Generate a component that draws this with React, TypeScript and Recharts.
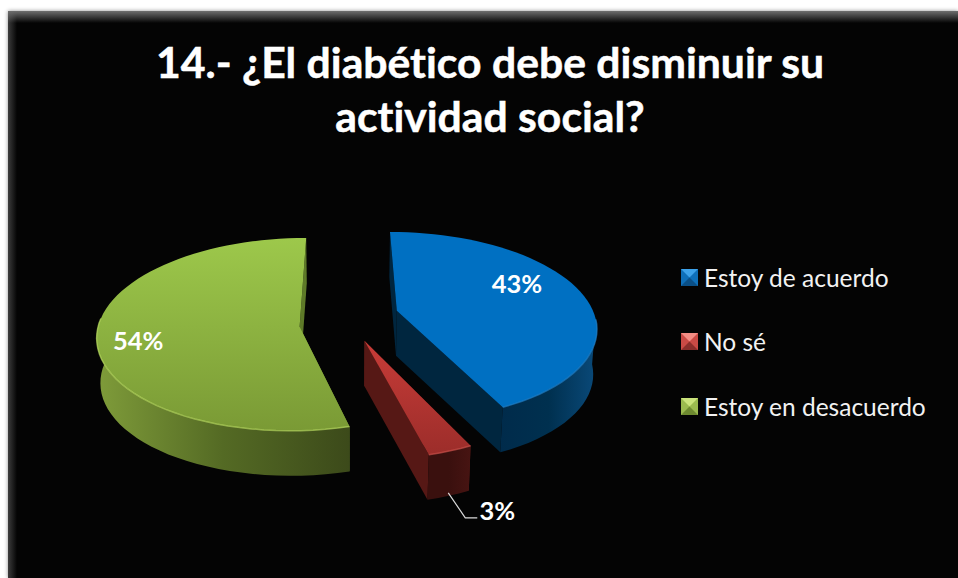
import { PieChart, Pie, Legend } from 'recharts';

const categories = ['Estoy de acuerdo', 'No sé', 'Estoy en desacuerdo'];
const shares = [43, 3, 54];
const titleLines = ['14.- ¿El diabético debe disminuir su', 'actividad social?'];

const chartData = categories.map((name, i) => ({ name, value: shares[i], idx: i }));

// Colours per slice: top face gradient, wall gradient, cut face, rim highlight, legend bevel
const topStops = [['#0070C2', '#0070C2'], ['#C83C38', '#9C2D2A'], ['#9DC84B', '#7A9A35']];
const wallStops = [['#002B4B', '#00304F', '#0A4A7A'], ['#3A100E', '#3A100E', '#471412'], ['#7F9C3A', '#546A24', '#3C4A1A']];
const cutFill = ['#00263F', '#561815', '#5E7A28'];
const rimFill = ['#1F7EC4', '#C8504A', '#B4D65E'];
const bevel = [
    ['#3DA2EA', '#0E6FB9', '#0A4F86'],
    ['#F48C84', '#CA4A45', '#8A2E2B'],
    ['#CBE37C', '#9BBA4F', '#6E8A30'],
];

// Perspective of the tilted pie
const TILT = 0.47;
const DEPTH = 0.16;
const THICKNESS = 45;
const SHRINK = 0.985;
const EXPLODE = [0.26, 0.25, 0.24];
const APEX_DROP = [0, 2, 8];

// Label spots: fraction along the slice's middle radius plus a nudge in pixels
const labelSpots = [
    { f: 0.62, dx: 5, dy: -16 },
    { f: 1, dx: 47, dy: 59 },
    { f: 0.82, dx: 4, dy: 11.5 },
];

const rad = (d: number) => (d * Math.PI) / 180;

const project = (angle: number, f: number, mid: number, e: number, cx: number, cy: number, r: number) => {
    const px = f * Math.cos(rad(angle)) + e * Math.cos(rad(mid));
    const py = -f * Math.sin(rad(angle)) - e * Math.sin(rad(mid));
    const w = 1 - DEPTH * py;
    return { x: cx + (r * px) / w, y: cy + (r * TILT * py) / w };
};

const dropDown = (p: { x: number; y: number }, cx: number) => ({
    x: cx + (p.x - cx) * SHRINK,
    y: p.y + THICKNESS,
});

const toPath = (pts: { x: number; y: number }[], close = true) =>
    pts.map((p, i) => `${i ? 'L' : 'M'}${p.x.toFixed(1)} ${p.y.toFixed(1)}`).join(' ') + (close ? ' Z' : '');

const Slice3D = (props: any) => {
    const { cx, cy, outerRadius, startAngle, endAngle, payload } = props;
    const i = payload.idx;
    const mid = (startAngle + endAngle) / 2;
    const e = EXPLODE[i];
    const at = (a: number, f = 1) => project(a, f, mid, e, cx, cy, outerRadius);

    const rim: { x: number; y: number }[] = [];
    const steps = Math.max(4, Math.ceil(Math.abs(endAngle - startAngle) / 3));
    for (let s = 0; s <= steps; s++) rim.push(at(startAngle + ((endAngle - startAngle) * s) / steps));
    const center = at(mid, 0);
    const apex = { x: center.x, y: center.y + APEX_DROP[i] };
    const first = rim[0];
    const last = rim[rim.length - 1];
    const drop = (p: { x: number; y: number }) => dropDown(p, cx);
    const frontRim = rim.filter(p => p.y > cy);

    return (
        <g>
            <defs>
                <linearGradient id={`top-${i}`} x1="0" y1="0" x2="0" y2="1">
                    <stop offset="0" stopColor={topStops[i][0]} />
                    <stop offset="1" stopColor={topStops[i][1]} />
                </linearGradient>
                <linearGradient id={`wall-${i}`} x1="0" y1="0" x2="1" y2="0">
                    <stop offset="0" stopColor={wallStops[i][0]} />
                    <stop offset="0.5" stopColor={wallStops[i][1]} />
                    <stop offset="1" stopColor={wallStops[i][2]} />
                </linearGradient>
            </defs>
            {/* cut faces, then the curved wall (front part only), then the top */}
            <path d={toPath([apex, first, drop(first), drop(apex)])} fill={cutFill[i]} />
            <path d={toPath([apex, last, drop(last), drop(apex)])} fill={cutFill[i]} />
            <path d={toPath([...frontRim, ...frontRim.map(drop).reverse()])} fill={`url(#wall-${i})`} />
            <path d={toPath([apex, ...rim])} fill={`url(#top-${i})`} />
            <path d={toPath(frontRim, false)} fill="none" stroke={rimFill[i]} strokeWidth={1.5} strokeOpacity={0.7} />
        </g>
    );
};

const SliceLabel = (props: any) => {
    const { cx, cy, outerRadius, midAngle, value, index } = props;
    const spot = labelSpots[index];
    const anchor = project(midAngle, spot.f, midAngle, EXPLODE[index], cx, cy, outerRadius);
    const x = anchor.x + spot.dx;
    const y = anchor.y + spot.dy;
    return (
        <g>
            {index === 1 && (
                <polyline
                    points={`${x - 49},${y - 17} ${x - 32},${y + 8} ${x - 20},${y + 8}`}
                    fill="none"
                    stroke="#D9D9D9"
                    strokeWidth={1.2}
                />
            )}
            <text
                x={x}
                y={y}
                fill="#fff"
                textAnchor="middle"
                dominantBaseline="central"
                fontFamily="Lato"
                fontWeight={700}
                fontSize={25.5}
            >
                {value}%
            </text>
        </g>
    );
};

const LegendBox = ({ payload }: any) => (
    <div>
        {(payload || []).map((item: any, i: number) => (
            <div key={item.value} style={{ display: 'flex', alignItems: 'center', height: 64.5 }}>
                <svg width={17} height={17} style={{ marginRight: 6 }}>
                    <rect width={17} height={17} fill={bevel[i][1]} />
                    <polygon points="0,0 17,0 8.5,8.5" fill={bevel[i][0]} />
                    <polygon points="0,17 17,17 8.5,8.5" fill={bevel[i][2]} />
                </svg>
                <span style={{ color: '#F2F2F2', fontFamily: 'Lato', fontSize: 24.5, whiteSpace: 'nowrap' }}>{item.value}</span>
            </div>
        ))}
    </div>
);

export default function App() {
    return (
        <div style={{ position: 'absolute', left: 0, top: 0, width: 958, height: 578, overflow: 'hidden', background: '#fff', fontVariantLigatures: 'none' }}>
            <div
                style={{
                    position: 'absolute',
                    left: 8,
                    top: 11,
                    width: 950,
                    height: 567,
                    boxShadow: '0 0 4px rgba(0,0,0,0.45)',
                    background:
                        'linear-gradient(to bottom, #6E6E6E 0, rgba(5,5,5,0) 12px), linear-gradient(to right, #3C3C3C 0, rgba(5,5,5,0) 9px), #040404',
                }}
            />
            <div
                style={{
                    position: 'absolute',
                    left: 0,
                    top: 35,
                    width: 980,
                    textAlign: 'center',
                    color: '#fff',
                    fontFamily: 'Lato',
                    fontWeight: 700,
                    fontSize: 42.7,
                    lineHeight: '54px',
                    WebkitTextStroke: '0.5px #fff',
                }}
            >
                {titleLines.map(line => (
                    <div key={line}>{line}</div>
                ))}
            </div>
            <div style={{ position: 'absolute', left: 0, top: 0 }}>
                <PieChart width={958} height={578} margin={{ top: 0, right: 0, bottom: 0, left: 0 }}>
                    <Pie
                        data={chartData}
                        dataKey="value"
                        nameKey="name"
                        cx={347}
                        cy={316}
                        outerRadius={198}
                        startAngle={90}
                        endAngle={-270}
                        stroke="none"
                        rootTabIndex={-1}
                        shape={Slice3D}
                        label={SliceLabel}
                        labelLine={false}
                        isAnimationActive={false}
                    />
                    <Legend
                        layout="vertical"
                        align="right"
                        verticalAlign="top"
                        itemSorter={null}
                        content={LegendBox}
                        wrapperStyle={{ left: 681, top: 245, width: 270 }}
                    />
                </PieChart>
            </div>
        </div>
    );
}
